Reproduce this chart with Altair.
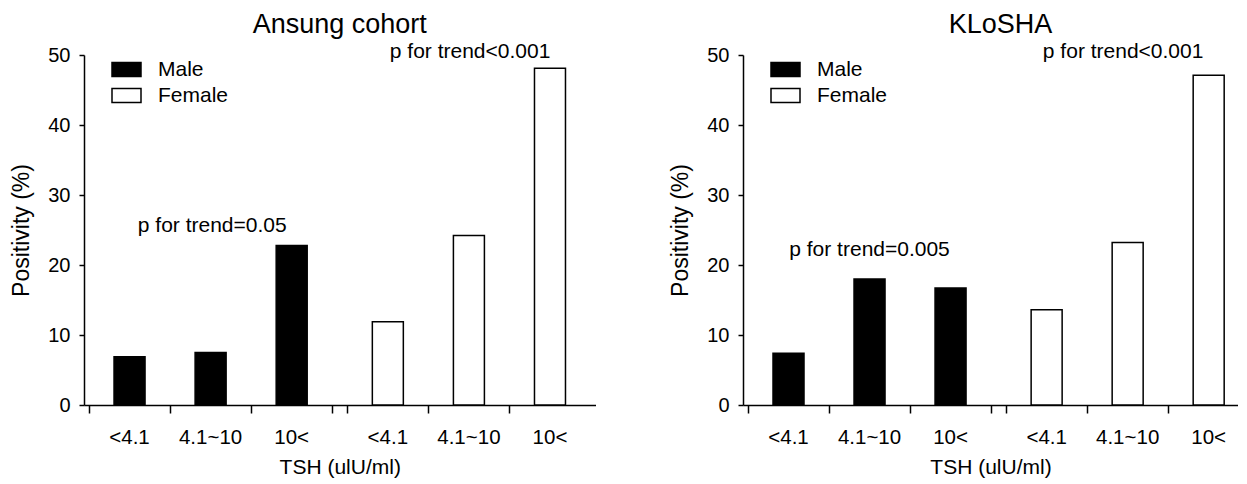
import altair as alt
import pandas as pd

# ---- data ----
tsh_levels = ["<4.1", "4.1~10", "10<"]
sexes = ["Male", "Female"]

ansung_male = [6.9, 7.5, 22.8]
ansung_female = [11.9, 24.2, 48.1]
klosha_male = [7.4, 18.0, 16.7]
klosha_female = [13.6, 23.2, 47.1]

ansung_notes = ["p for trend=0.05", "p for trend<0.001"]
ansung_note_x = [1.52, 4.70]
ansung_note_y = [25.6, 50.4]
klosha_notes = ["p for trend=0.005", "p for trend<0.001"]
klosha_note_x = [1.50, 4.63]
klosha_note_y = [22.1, 50.4]

yticks = [0, 10, 20, 30, 40, 50]

GAP = 0.186
FONT = "Liberation Sans"
H = 350
PX_PER_UNIT = 82.69


def bars_df(male, female):
    rows = []
    for g, (sex, vals) in enumerate(zip(sexes, [male, female])):
        for i, (lvl, v) in enumerate(zip(tsh_levels, vals)):
            rows.append({"sex": sex, "tsh": lvl, "pos": g * (3 + GAP) + i + 0.5, "value": v})
    return pd.DataFrame(rows)


boundaries = [0, 1, 2, 3, 3 + GAP, 4 + GAP, 5 + GAP, 6 + GAP]


def panel(title, male, female, notes, nx, ny, width, title_dx):
    xmax = width / PX_PER_UNIT
    df = bars_df(male, female)
    notes_df = pd.DataFrame({"pos": nx, "value": ny, "note": notes})
    xscale = alt.Scale(domain=[0, xmax], nice=False, zero=False)
    yscale = alt.Scale(domain=[0, 50], nice=False)
    bars = alt.Chart(df).mark_bar(size=31, stroke="black", strokeWidth=1.5).encode(
        x=alt.X(
            "pos:Q",
            scale=xscale,
            axis=alt.Axis(
                values=[b for b in boundaries if b <= xmax + 1e-9],
                labels=False,
                grid=False,
                tickSize=8,
                domainColor="black",
                tickColor="black",
                domainWidth=1.5,
                tickWidth=1.5,
                title="TSH (ulU/ml)",
                titleFontSize=21,
                titleFontWeight="normal",
                titleColor="black",
                titlePadding=43,
            ),
        ),
        y=alt.Y(
            "value:Q",
            scale=yscale,
            axis=alt.Axis(
                values=yticks,
                grid=False,
                tickSize=5,
                labelPadding=9,
                labelFontSize=20,
                labelColor="black",
                domainColor="black",
                tickColor="black",
                domainWidth=1.5,
                tickWidth=1.5,
                title="Positivity (%)",
                titleFontSize=23,
                titleFontWeight="normal",
                titleColor="black",
                titlePadding=14,
            ),
        ),
        fill=alt.Fill(
            "sex:N",
            scale=alt.Scale(domain=sexes, range=["black", "white"]),
            legend=alt.Legend(
                title=None,
                orient="none",
                legendX=27,
                legendY=-1,
                padding=0,
                symbolType="M-1,-0.483H1V0.483H-1Z",
                symbolSize=841,
                symbolStrokeColor="black",
                symbolStrokeWidth=1.5,
                labelFontSize=21,
                labelColor="black",
                labelOffset=16,
                rowPadding=0,
            ),
        ),
    )
    labels = alt.Chart(df).mark_text(fontSize=20.5, baseline="middle", color="black").encode(
        x="pos:Q", y=alt.value(H + 33), text="tsh:N"
    )
    note_marks = alt.Chart(notes_df).mark_text(fontSize=21, baseline="middle", color="black").encode(
        x="pos:Q", y="value:Q", text="note:N"
    )
    return alt.layer(bars, labels, note_marks).properties(
        width=width,
        height=H,
        title=alt.TitleParams(title, fontSize=27, fontWeight="normal", color="black", dx=title_dx, offset=2),
    )


left = panel("Ansung cohort", ansung_male, ansung_female, ansung_notes, ansung_note_x, ansung_note_y,
             511.5, 0)
right = panel("KLoSHA", klosha_male, klosha_female, klosha_notes, klosha_note_x, klosha_note_y,
              495, 10)

chart = (
    alt.hconcat(left, right, spacing=73)
    .resolve_scale(fill="independent", x="independent", y="independent")
    .properties(padding={"left": 2, "top": 3, "right": 0, "bottom": 0})
    .configure(font=FONT)
    .configure_view(stroke=None)
)

chart.save("out.html", embed_options={"renderer": "svg", "actions": False})
